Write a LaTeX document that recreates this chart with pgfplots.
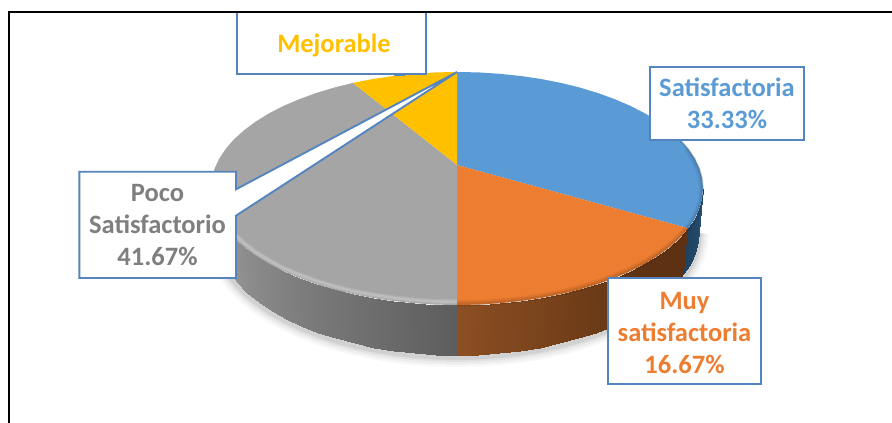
\documentclass[border=0pt]{standalone}
\usepackage{pgfplots}
\pgfplotsset{compat=1.18}
\usepackage{pgfplotstable}
\usepackage{fontspec}
\setmainfont{Carlito}
\definecolor{cblue}{HTML}{5B9BD5}
\definecolor{corange}{HTML}{ED7D31}
\definecolor{cgray}{HTML}{A5A5A5}
\definecolor{cyellow}{HTML}{FFC000}
\definecolor{cgraytxt}{HTML}{7F7F7F}
\definecolor{cborder}{HTML}{5585BF}
% side wall, pairs: rim point then base point; c is the shade
\pgfplotstableread{
x y c
211.0 188.5 1.000
215.0 231.0 1.000
211.9 198.7 0.944
215.9 241.8 0.944
214.7 208.7 0.889
218.7 252.5 0.889
219.4 218.7 0.833
223.2 263.1 0.833
225.8 228.3 0.778
229.6 273.4 0.778
234.0 237.7 0.722
237.7 283.4 0.722
244.0 246.8 0.667
247.4 293.0 0.667
255.5 255.3 0.611
258.8 302.1 0.611
268.6 263.4 0.556
271.6 310.7 0.556
283.1 270.9 0.500
285.9 318.7 0.500
298.9 277.7 0.444
301.4 326.0 0.444
315.9 283.9 0.389
318.2 332.6 0.389
334.0 289.4 0.333
336.0 338.4 0.333
353.0 294.1 0.278
354.7 343.4 0.278
372.9 298.0 0.222
374.2 347.5 0.222
393.3 301.0 0.167
394.4 350.8 0.167
414.3 303.2 0.111
415.0 353.1 0.111
435.5 304.6 0.056
435.9 354.5 0.056
457.0 305.0 0.000
457.0 355.0 0.000
}\sidegray
\pgfplotstableread{
x y c
457.0 305.0 1.0
457.0 355.0 1.0
478.5 304.6 0.9
478.1 354.5 0.9
499.7 303.2 0.8
499.0 353.1 0.8
520.7 301.0 0.7
519.6 350.8 0.7
541.1 298.0 0.6
539.8 347.5 0.6
561.0 294.1 0.5
559.3 343.4 0.5
580.0 289.4 0.4
578.0 338.4 0.4
598.1 283.9 0.3
595.8 332.6 0.3
615.1 277.7 0.2
612.6 326.0 0.2
630.9 270.9 0.1
628.1 318.7 0.1
645.4 263.4 0.0
642.4 310.7 0.0
658.5 255.3 0.0
655.2 302.1 0.0
670.0 246.8 0.0
666.6 293.0 0.0
680.0 237.7 0.0
676.3 283.4 0.0
688.2 228.3 0.0
684.4 273.4 0.0
}\sideorange
\pgfplotstableread{
x y c
688.2 228.3 0.0
684.4 273.4 0.0
694.6 218.7 0.25
690.8 263.1 0.25
699.3 208.7 0.5
695.3 252.5 0.5
702.1 198.7 0.75
698.1 241.8 0.75
703.0 188.5 1.0
699.0 231.0 1.0
}\sideblue
% outer edge of the base, used for the soft shadow
\pgfplotstableread{
x y
215.0 231.0
215.9 241.8
218.7 252.5
223.2 263.1
229.6 273.4
237.7 283.4
247.4 293.0
258.8 302.1
271.6 310.7
285.9 318.7
301.4 326.0
318.2 332.6
336.0 338.4
354.7 343.4
374.2 347.5
394.4 350.8
415.0 353.1
435.9 354.5
457.0 355.0
478.1 354.5
499.0 353.1
519.6 350.8
539.8 347.5
559.3 343.4
578.0 338.4
595.8 332.6
612.6 326.0
628.1 318.7
642.4 310.7
655.2 302.1
666.6 293.0
676.3 283.4
684.4 273.4
690.8 263.1
695.3 252.5
698.1 241.8
699.0 231.0
}\baseedge
\pgfplotsset{
 colormap={mgray}{rgb255(0cm)=(93,93,93); rgb255(1cm)=(165,165,165)},
 colormap={morange}{rgb255(0cm)=(94,49,18); rgb255(1cm)=(139,79,34)},
 colormap={mblue}{rgb255(0cm)=(32,66,96); rgb255(1cm)=(38,80,115)},
 wall/.style={surf, shader=interp, mesh/cols=2, point meta=explicit, point meta rel=per plot},
 box/.style={draw=cborder, line width=1.9pt, fill=white, line join=miter},
}
\begin{document}
\begin{tikzpicture}
\path[use as bounding box] (0,0) rectangle (892pt,423pt);
\begin{axis}[
  at={(0,0)}, anchor=south west,
  scale only axis, width=892pt, height=423pt,
  xmin=0, xmax=892, ymin=0, ymax=423, y dir=reverse,
  hide axis, clip=true,
]
% shadow
\addplot[draw=black, opacity=.03, line width=20pt, no marks] table[x=x, y expr=\thisrow{y}+2] {\baseedge};
\addplot[draw=black, opacity=.04, line width=15pt, no marks] table[x=x, y expr=\thisrow{y}+2] {\baseedge};
\addplot[draw=black, opacity=.05, line width=10pt, no marks] table[x=x, y expr=\thisrow{y}+2] {\baseedge};
\addplot[draw=black, opacity=.07, line width=6pt, no marks] table[x=x, y expr=\thisrow{y}+2] {\baseedge};
% side walls
\addplot[wall, mesh/rows=19, colormap name=mgray] table[x=x, y=y, meta=c] {\sidegray};
\addplot[wall, mesh/rows=15, colormap name=morange] table[x=x, y=y, meta=c] {\sideorange};
\addplot[wall, mesh/rows=5, colormap name=mblue] table[x=x, y=y, meta=c] {\sideblue};
% top faces
\addplot[fill=cblue, draw=none] coordinates {(457,165) (457,72) (478.5,72.4) (499.7,73.8) (520.7,76) (541.1,79) (561,82.9) (580,87.6) (598.1,93.1) (615.1,99.3) (630.9,106.1) (645.4,113.6) (658.5,121.7) (670,130.3) (680,139.3) (688.2,148.7) (694.6,158.3) (699.3,168.3) (702.1,178.3) (703,188.5) (702.1,198.7) (699.3,208.7) (694.6,218.7) (688.2,228.3)} --cycle;
\addplot[fill=corange, draw=none] coordinates {(457,165) (688.2,228.3) (680,237.7) (670,246.8) (658.5,255.3) (645.4,263.4) (630.9,270.9) (615.1,277.7) (598.1,283.9) (580,289.4) (561,294.1) (541.1,298) (520.7,301) (499.7,303.2) (478.5,304.6) (457,305)} --cycle;
\addplot[fill=cgray, draw=none] coordinates {(457,165) (457,305) (435.5,304.6) (414.3,303.2) (393.3,301) (372.9,298) (353,294.1) (334,289.4) (315.9,283.9) (298.9,277.7) (283.1,270.9) (268.6,263.4) (255.5,255.3) (244,246.8) (234,237.7) (225.8,228.3) (219.4,218.7) (214.7,208.7) (211.9,198.7) (211,188.5) (211.9,178.3) (214.7,168.3) (219.4,158.3) (225.8,148.7) (234,139.3) (244,130.3) (255.5,121.7) (268.6,113.6) (283.1,106.1) (298.9,99.3) (315.9,93.1) (334,87.6) (353,82.9)} --cycle;
\addplot[fill=cyellow, draw=none] coordinates {(457,165) (353,82.9) (372.9,79) (393.3,76) (414.3,73.8) (435.5,72.4) (457,72)} --cycle;
% bevel along the rim, soft by stacking
\addplot[draw=white, opacity=.12, line width=5pt, no marks] coordinates {(211.9,195) (214.7,205) (219.4,215) (225.8,225) (234,234) (244,243) (255.5,252) (268.6,260) (283.1,268) (298.9,274.5) (315.9,280.7) (334,286.2) (353,291) (372.9,294.8) (393.3,297.8) (414.3,300) (435.5,301.4) (457,301.8)};
\addplot[draw=white, opacity=.18, line width=2.5pt, no marks] coordinates {(211.9,195) (214.7,205) (219.4,215) (225.8,225) (234,234) (244,243) (255.5,252) (268.6,260) (283.1,268) (298.9,274.5) (315.9,280.7) (334,286.2) (353,291) (372.9,294.8) (393.3,297.8) (414.3,300) (435.5,301.4) (457,301.8)};
\addplot[draw=black, opacity=.07, line width=6pt, no marks] coordinates {(457,303.5) (478.5,303.1) (499.7,301.7) (520.7,299.5) (541.1,296.5) (561,292.6) (580,287.9) (598.1,282.4) (615.1,276.2) (630.9,269.4) (645.4,261.9) (658.5,253.8) (670,245.3) (680,236.2) (688.2,226.8)};
\addplot[draw=black, opacity=.1, line width=3pt, no marks] coordinates {(457,304) (478.5,303.6) (499.7,302.2) (520.7,300) (541.1,297) (561,293.1) (580,288.4) (598.1,282.9) (615.1,276.7) (630.9,269.9) (645.4,262.4) (658.5,254.3) (670,245.8) (680,236.7) (688.2,227.3)};
\addplot[draw=black, opacity=.07, line width=5pt, no marks] coordinates {(686.7,149.5) (693.1,159) (697.8,169) (700.6,179) (701.5,188.5) (700.6,198.7) (697.8,208.7) (693.1,218.7) (688.2,226.8)};
\addplot[draw=black, opacity=.1, line width=2.5pt, no marks] coordinates {(670,130.8) (680,139.8) (687.7,149) (694.1,158.6) (698.8,168.6) (701.6,178.6) (702.5,188.5) (701.6,198.7) (698.8,208.7) (694.1,218.7) (688.2,227.8)};
% label callouts
\addplot[box] coordinates {(236.7,12) (425.7,12) (425.7,74) (236.7,74)} --cycle;
\addplot[draw=cborder, line width=3pt, no marks] coordinates {(394,74) (405,74)};
\addplot[box] coordinates {(650,67.3) (804,67.3) (804,140) (650,140)} --cycle;
\addplot[box] coordinates {(608.3,278.3) (760.7,278.3) (760.7,384) (608.3,384)} --cycle;
\addplot[box] coordinates {(79.3,171.7) (236,171.7) (236,189.3) (457,72) (236,215.7) (236,278) (79.3,278)} --cycle;
% page frame
\addplot[draw=black, line width=2pt, no marks, line join=miter] coordinates {(9,423) (9,12) (892,12)};
% labels
\node[font=\fontsize{26.5}{32}\selectfont\bfseries, text=cyellow, align=center] at (axis cs:334,45) {Mejorable};
\node[font=\fontsize{26.5}{32}\selectfont\bfseries, text=cblue, align=center] at (axis cs:727,103.5) {Satisfactoria\\33.33\%};
\node[font=\fontsize{26.5}{32}\selectfont\bfseries, text=corange, align=center] at (axis cs:684.5,333) {Muy\\satisfactoria\\16.67\%};
\node[font=\fontsize{26.5}{32}\selectfont\bfseries, text=cgraytxt, align=center] at (axis cs:157.5,225) {Poco\\Satisfactorio\\41.67\%};
\end{axis}
\end{tikzpicture}
\end{document}
